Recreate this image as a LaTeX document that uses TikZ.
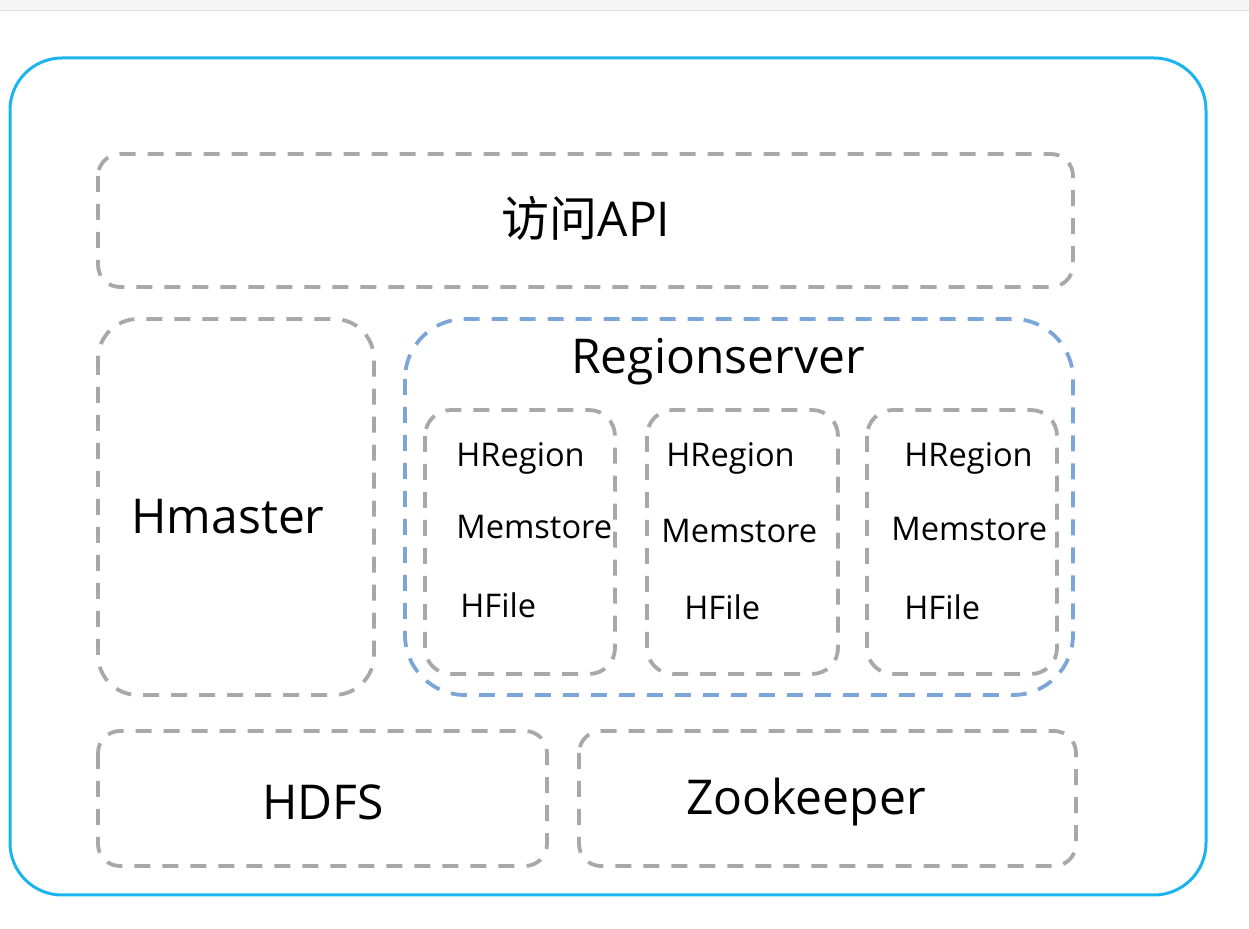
\documentclass[tikz,border=0pt]{standalone}
\usepackage{fontspec}
\setmainfont{Open Sans}
\newfontfamily\cjk{Noto Sans CJK SC}
\definecolor{outerblue}{HTML}{1BB4EE}
\definecolor{rsblue}{HTML}{7DA6D8}
\definecolor{boxgray}{HTML}{A8A8A8}
\begin{document}
\begin{tikzpicture}[x=0.5pt,y=-0.5pt,
  graybox/.style={draw=boxgray,line width=1.9pt,dash pattern=on 8pt off 6pt},
  bigtext/.style={font=\fontsize{24}{28}\selectfont},
  smalltext/.style={font=\fontsize{16.3}{20}\selectfont,anchor=west}]
   \useasboundingbox (0,0) rectangle (1249,929);
   % browser edge at the top
   \fill[black!4] (0,0) rectangle (1249,11);
   \draw[black!12,line width=0.5pt] (0,11) -- (1249,11);
   % frame
   \draw[outerblue,line width=1.5pt,rounded corners=26pt] (10,58) rectangle (1206,895);
   % boxes
   \draw[graybox,rounded corners=11pt] (98,154) rectangle (1073,287);
   \draw[graybox,rounded corners=20pt] (98,319) rectangle (374,695);
   \draw[rsblue,line width=1.9pt,dash pattern=on 8pt off 6pt,rounded corners=30pt] (405,319) rectangle (1073,695);
   \draw[graybox,rounded corners=13pt] (425,410) rectangle (615,674);
   \draw[graybox,rounded corners=13pt] (647,410) rectangle (838,674);
   \draw[graybox,rounded corners=13pt] (867,410) rectangle (1057,674);
   \draw[graybox,rounded corners=11pt] (98,731) rectangle (547,866);
   \draw[graybox,rounded corners=11pt] (579,731) rectangle (1076,866);
   % labels
   \begin{scope}[every node/.style={bigtext,inner sep=0pt}]
    \node (api) at (586,218) {{\cjk 访问}API};
    \node (rs) at (718,362) {Regionserver};
    \node (hmaster) at (228,517) {Hmaster};
    \node (hdfs) at (323,802) {HDFS};
    \node (zk) at (806,802) {Zookeeper};
   \end{scope}
   \begin{scope}[every node/.style={smalltext,inner sep=0pt}]
    \node (hr1) at (456,458) {HRegion};
    \node (ms1) at (456,527) {Memstore};
    \node (hf1) at (460,605) {HFile};
    \node (hr2) at (666,458) {HRegion};
    \node (ms2) at (661,531) {Memstore};
    \node (hf2) at (684,607) {HFile};
    \node (hr3) at (904,458) {HRegion};
    \node (ms3) at (891,529) {Memstore};
    \node (hf3) at (904,607) {HFile};
   \end{scope}
\end{tikzpicture}
\end{document}
